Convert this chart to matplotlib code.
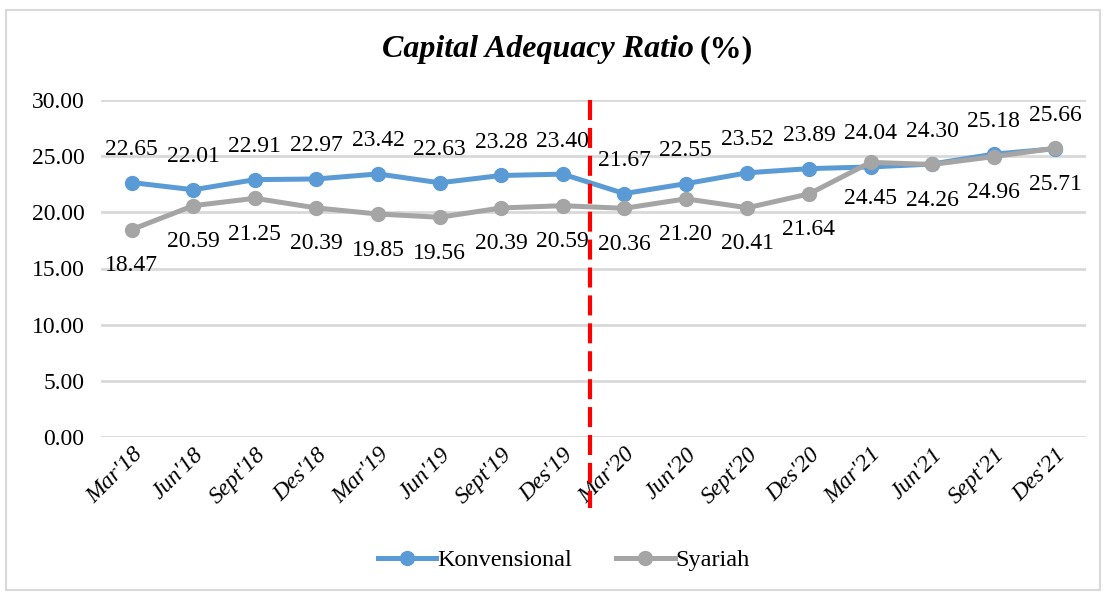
import numpy as np
import matplotlib
matplotlib.use("Agg")
import matplotlib.pyplot as plt
from matplotlib.patches import Rectangle

plt.rcParams['font.family'] = ['Liberation Serif', 'DejaVu Serif']

quarters = ["Mar'18", "Jun'18", "Sept'18", "Des'18", "Mar'19", "Jun'19", "Sept'19", "Des'19",
            "Mar'20", "Jun'20", "Sept'20", "Des'20", "Mar'21", "Jun'21", "Sept'21", "Des'21"]
konvensional = [22.65, 22.01, 22.91, 22.97, 23.42, 22.63, 23.28, 23.40,
                21.67, 22.55, 23.52, 23.89, 24.04, 24.30, 25.18, 25.66]
syariah = [18.47, 20.59, 21.25, 20.39, 19.85, 19.56, 20.39, 20.59,
           20.36, 21.20, 20.41, 21.64, 24.45, 24.26, 24.96, 25.71]
yticks = [0, 5, 10, 15, 20, 25, 30]

blue = '#5B9BD5'
grey = '#A5A5A5'

fig = plt.figure(figsize=(11.06, 5.92), dpi=100)
fig.patches.append(Rectangle((0.005, 0.003), 0.99, 0.98, transform=fig.transFigure,
                             fill=False, edgecolor='#D9D9D9', linewidth=1.5))
ax = fig.add_axes([101 / 1106, 1 - 437 / 592, 985 / 1106, 337 / 592])

x = np.arange(len(quarters))
ax.plot(x, konvensional, color=blue, lw=3.6, marker='o', ms=10, label='Konvensional', zorder=3)
ax.plot(x, syariah, color=grey, lw=3.6, marker='o', ms=10, label='Syariah', zorder=4)

for i in range(len(x)):
    ax.annotate(f'{konvensional[i]:.2f}', (x[i], konvensional[i]), xytext=(0, 33),
                textcoords='offset pixels', ha='center', va='center', fontsize=17)
    ax.annotate(f'{syariah[i]:.2f}', (x[i], syariah[i]), xytext=(0, -36),
                textcoords='offset pixels', ha='center', va='center', fontsize=17)

# covid divider
ax.plot([7.45, 7.45], [30, -6.3], color='red', lw=3, ls=(0, (4.8, 1.9)), clip_on=False, zorder=5)

ax.set_xlim(-0.5, len(quarters) - 0.5)
ax.set_ylim(0, 30)
ax.set_yticks(yticks)
ax.set_yticklabels([f'{v:.2f}' for v in yticks], fontsize=17)
ax.set_xticks(x)
ax.set_xticklabels(quarters, rotation=45, ha='right', rotation_mode='anchor',
                   fontsize=17, style='italic')
ax.grid(axis='y', color='#D9D9D9', lw=2)
ax.set_axisbelow(True)
ax.tick_params(axis='y', length=0, pad=12)
ax.tick_params(axis='x', length=0, pad=5)
for s in ax.spines.values():
    s.set_visible(False)

fig.text(694 / 1106, 1 - 50 / 592, 'Capital Adequacy Ratio', ha='right', va='center',
         fontsize=23, fontweight='bold', style='italic')
fig.text(700 / 1106, 1 - 50 / 592, '(%)', ha='left', va='center',
         fontsize=23, fontweight='bold')
fig.legend(loc='center', bbox_to_anchor=(0.51, 1 - 560 / 592), ncol=2, frameon=False,
           fontsize=17.5, handlelength=2.4, handletextpad=0.05, columnspacing=1.8)

fig.savefig('out.png', dpi=100)
